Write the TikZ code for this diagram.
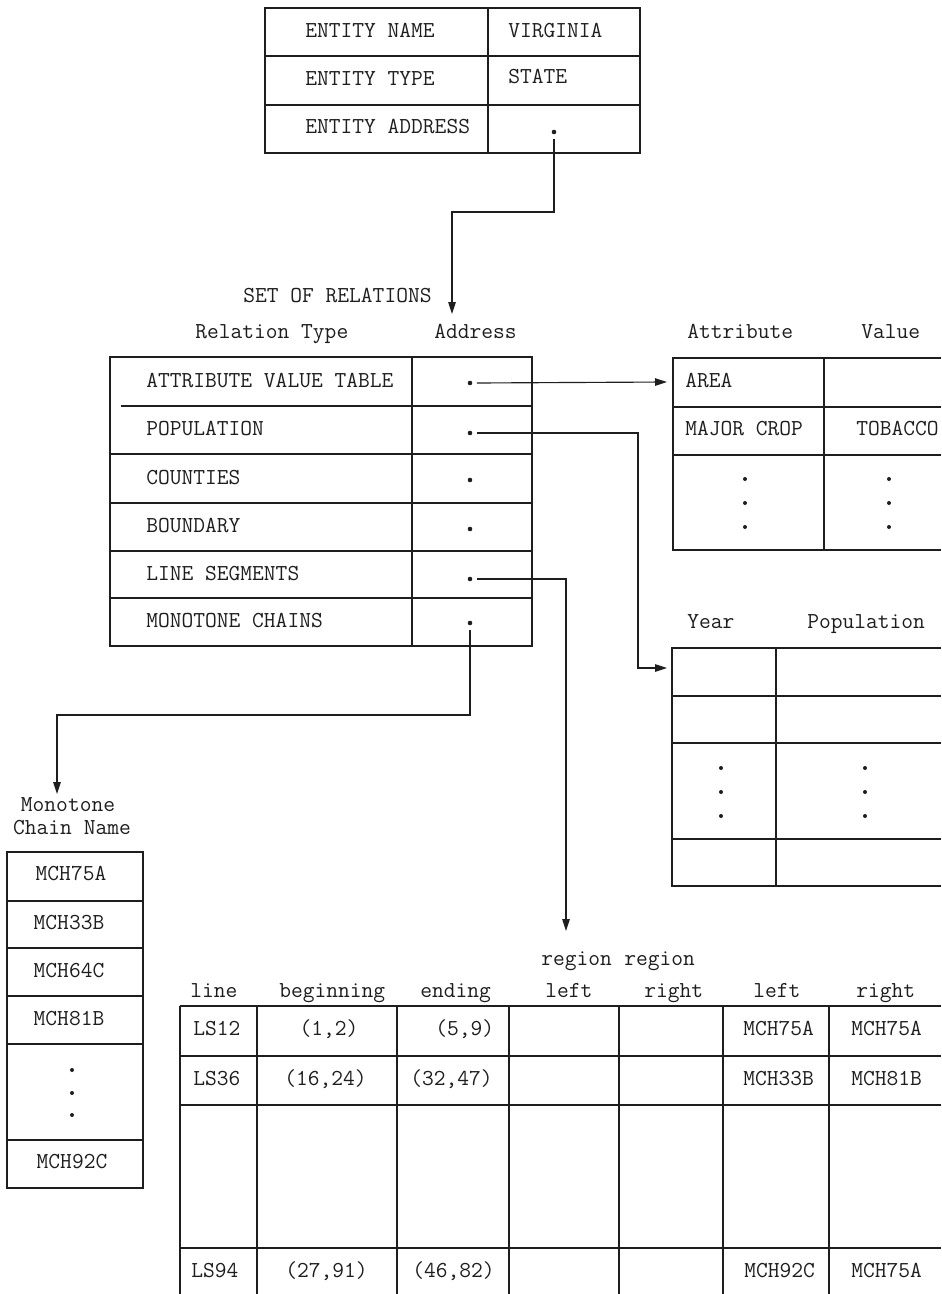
\documentclass[tikz,border=0pt]{standalone}
\usetikzlibrary{arrows.meta}
\definecolor{ink}{HTML}{1E1E1E}
\tikzset{
 tbl/.style={draw=ink, line width=0.65pt},
 conn/.style={draw=ink, line width=0.65pt, -{Triangle[length=0.24cm,width=0.15cm]}},
 lbl/.style={font=\ttfamily\fontsize{13}{15}\selectfont, text=ink, inner sep=0pt, anchor=base west},
 clbl/.style={lbl, anchor=base},
 addrdot/.style={circle, fill=ink, inner sep=0pt, minimum size=2.6pt, outer sep=2.6pt},
}
\begin{document}
\begin{tikzpicture}[x=0.02cm,y=-0.02cm]
\useasboundingbox (0,0) rectangle (941,1294);

% ---------- entity table ----------
\draw[tbl] (265,8) rectangle (640,153);
\draw[tbl] (265,56) -- (640,56) (265,105) -- (640,105) (488,8) -- (488,153);
\node[lbl] (en) at (305,38) {ENTITY NAME};
\node[lbl] (et) at (305,86) {ENTITY TYPE};
\node[lbl] (ea) at (305,134) {ENTITY ADDRESS};
\node[lbl] (ev) at (508,38) {VIRGINIA};
\node[lbl] (es) at (508,84) {STATE};
\node[addrdot] (d0) at (554,132) {};

% ---------- set of relations ----------
\node[lbl] (sor) at (243,302) {SET OF RELATIONS};
\node[lbl] (hrt) at (195,338) {Relation Type};
\node[lbl] (had) at (434,338) {Address};
\draw[tbl] (110,357) rectangle (532,646);
\draw[tbl] (121,406) -- (532,406) (110,454) -- (532,454) (110,503) -- (532,503)
           (110,551) -- (532,551) (110,598) -- (532,598) (412,357) -- (412,646);
\node[lbl] (r1) at (146,387) {ATTRIBUTE VALUE TABLE};
\node[lbl] (r2) at (146,435) {POPULATION};
\node[lbl] (r3) at (146,484) {COUNTIES};
\node[lbl] (r4) at (146,532) {BOUNDARY};
\node[lbl] (r5) at (146,580) {LINE SEGMENTS};
\node[lbl] (r6) at (146,627) {MONOTONE CHAINS};
\node[addrdot] (d1) at (470,383) {};
\node[addrdot] (d2) at (470,433) {};
\node[addrdot] (d3) at (470,480) {};
\node[addrdot] (d4) at (470,529) {};
\node[addrdot] (d5) at (470,579) {};
\node[addrdot] (d6) at (470,623) {};

% ---------- attribute value table ----------
\node[lbl] (hat) at (687,338) {Attribute};
\node[lbl] (hva) at (861,338) {Value};
\draw[tbl] (941,358) -- (673,358) -- (673,550) -- (941,550);
\draw[tbl] (673,407) -- (941,407) (673,455) -- (941,455) (824,358) -- (824,550);
\node[lbl] (area) at (685,387) {AREA};
\node[lbl] (crop) at (685,435) {MAJOR CROP};
\node[lbl] (tob) at (856,435) {TOBACCO};
\foreach \yy in {479,503,527}{
  \fill[ink] (745,\yy) circle (2);
  \fill[ink] (889,\yy) circle (2);
}

% ---------- population table ----------
\node[lbl] (hyr) at (687,628) {Year};
\node[lbl] (hpop) at (807,628) {Population};
\draw[tbl] (941,648) -- (672,648) -- (672,886) -- (941,886);
\draw[tbl] (672,696) -- (941,696) (672,743) -- (941,743) (672,839) -- (941,839)
           (776,648) -- (776,886);
\foreach \yy in {768,792,816}{
  \fill[ink] (721,\yy) circle (2);
  \fill[ink] (865,\yy) circle (2);
}

% ---------- monotone chain table ----------
\node[clbl] (hmo) at (68,811) {Monotone};
\node[clbl] (hcn) at (72,834) {Chain Name};
\draw[tbl] (7,852) rectangle (143,1188);
\draw[tbl] (7,901) -- (143,901) (7,948) -- (143,948) (7,996) -- (143,996)
           (7,1044) -- (143,1044) (7,1140) -- (143,1140);
\node[clbl] (m1) at (71,880) {MCH75A};
\node[clbl] (m2) at (69,929) {MCH33B};
\node[clbl] (m3) at (69,977) {MCH64C};
\node[clbl] (m4) at (69,1025) {MCH81B};
\node[clbl] (m5) at (72,1168) {MCH92C};
\foreach \yy in {1070,1093,1115}{ \fill[ink] (72,\yy) circle (2); }

% ---------- line segment table ----------
\node[lbl] (hl) at (190,997) {line};
\node[lbl] (hb) at (279,997) {beginning};
\node[lbl] (he) at (420,997) {ending};
\node[lbl] (hrl1) at (541,965) {region};
\node[lbl] (hrl2) at (545,997) {left};
\node[lbl] (hrr1) at (624,965) {region};
\node[lbl] (hrr2) at (644,997) {right};
\node[lbl] (hlf) at (753,997) {left};
\node[lbl] (hrg) at (856,997) {right};
\draw[tbl] (180,1006) -- (941,1006) (180,1056) -- (941,1056)
           (180,1105) -- (941,1105) (180,1248) -- (941,1248);
\foreach \xx in {180,257,397,509,619,723,829}{ \draw[tbl] (\xx,1006) -- (\xx,1294); }
\node[lbl] (a1) at (193,1035) {LS12};
\node[clbl] (a2) at (329,1035) {(1,2)};
\node[lbl] (a3) at (435,1035) {(5,9)};
\node[lbl] (a4) at (743,1035) {MCH75A};
\node[lbl] (a5) at (851,1035) {MCH75A};
\node[lbl] (b1) at (193,1085) {LS36};
\node[lbl] (b2) at (284,1085) {(16,24)};
\node[lbl] (b3) at (410,1085) {(32,47)};
\node[lbl] (b4) at (743,1085) {MCH33B};
\node[lbl] (b5) at (851,1085) {MCH81B};
\node[lbl] (c1) at (191,1277) {LS94};
\node[lbl] (c2) at (285,1277) {(27,91)};
\node[lbl] (c3) at (412,1277) {(46,82)};
\node[lbl] (c4) at (744,1277) {MCH92C};
\node[lbl] (c5) at (851,1277) {MCH75A};

% ---------- connectors ----------
\coordinate (j0) at (452,212);
\coordinate (t0) at (452,314);
\coordinate (t1) at (667,382);
\coordinate (j2) at (638,668);
\coordinate (t2) at (667,668);
\coordinate (t3) at (566,931);
\coordinate (j4) at (57,715);
\coordinate (t4) at (57,794);
\draw[conn] (d0.south) |- (j0) -- (t0);
\draw[conn] (d1.east) -- (t1);
\draw[conn] (d2.east) -| (j2) -- (t2);
\draw[conn] (d5.east) -| (t3);
\draw[conn] (d6.south) |- (j4) -- (t4);
\end{tikzpicture}
\end{document}
